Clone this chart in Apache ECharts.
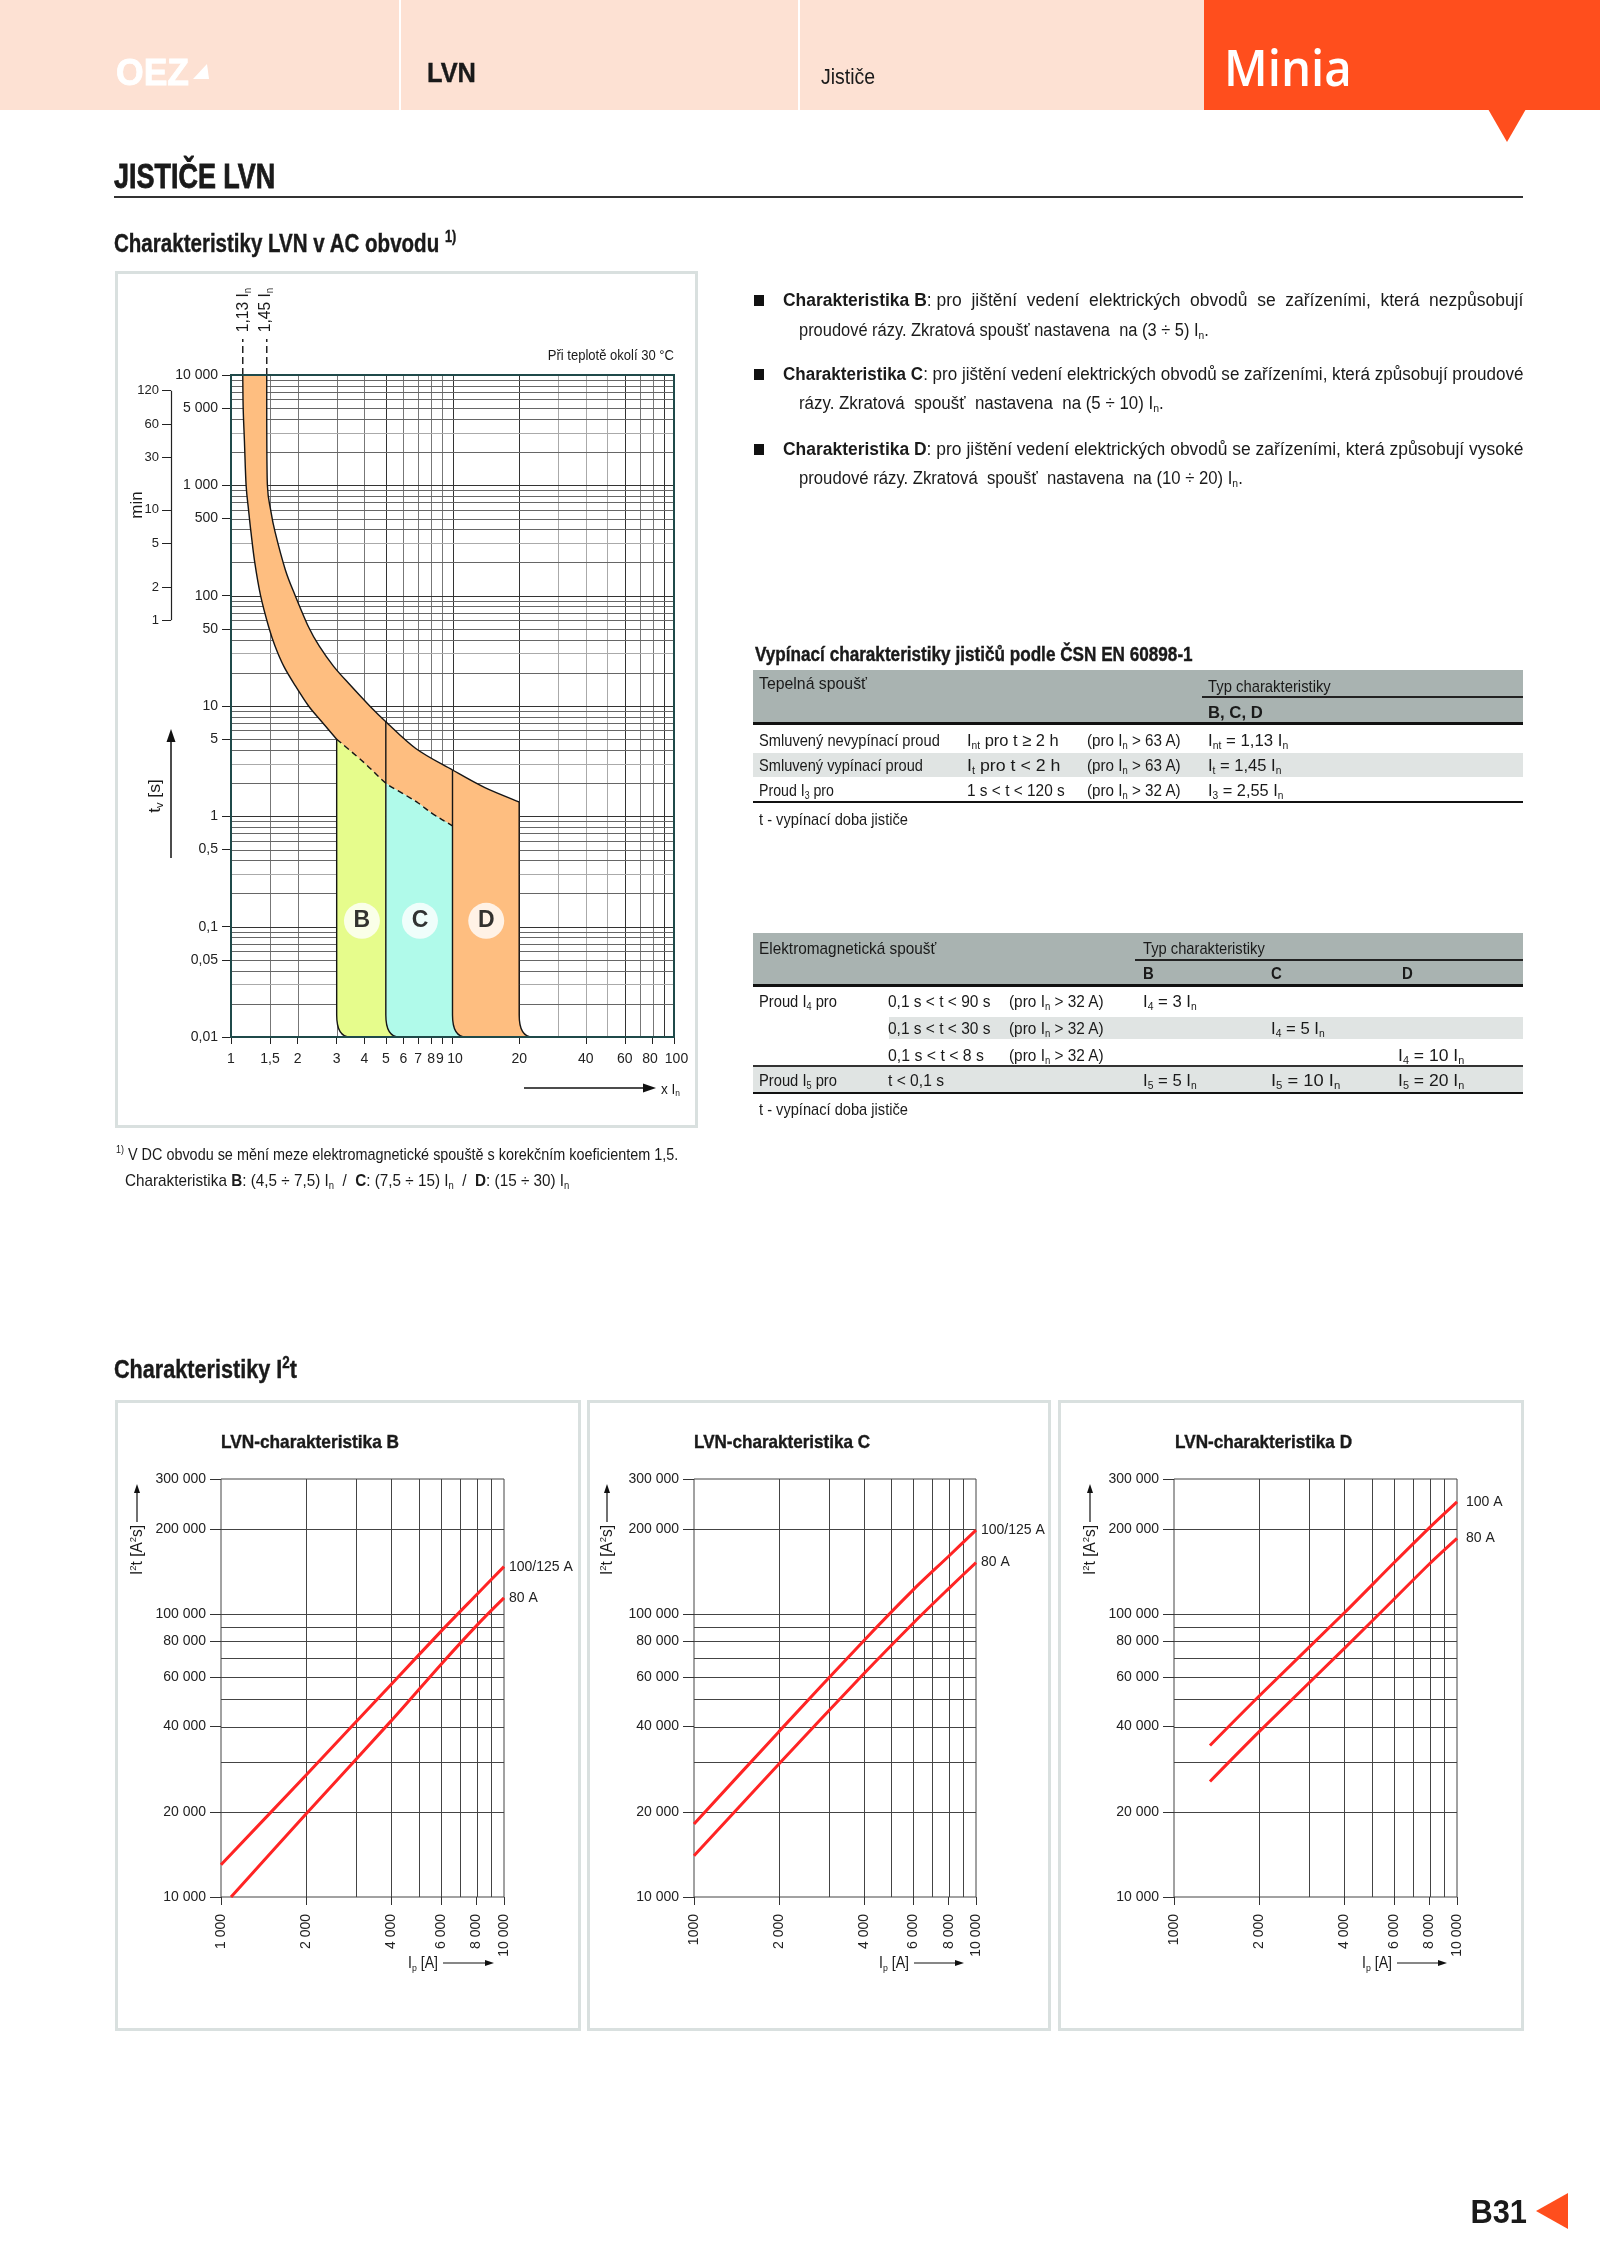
<!DOCTYPE html>
<html><head><meta charset="utf-8">
<script src="https://cdn.jsdelivr.net/npm/echarts@6/dist/echarts.min.js"></script>
<style>
html,body{margin:0;padding:0;background:#fff;}
#page{position:relative;width:1600px;height:2263px;overflow:hidden;font-family:"Liberation Sans",Arial,sans-serif;color:#1a1a1a;}
.t{position:absolute;white-space:nowrap;line-height:1;transform:translateY(-50%) scaleX(var(--sx,0.88));transform-origin:0 50%;z-index:3;}
.r{transform:translate(-100%,-50%) scaleX(var(--sx,0.88));transform-origin:100% 50%;}
.rot{transform:translate(-50%,-50%) rotate(-90deg) scaleX(var(--sx,0.88));transform-origin:50% 50%;}
.b{font-weight:bold;}
.hv{-webkit-text-stroke:0.8px currentColor;}
.hm{-webkit-text-stroke:0.4px currentColor;}
sub{font-size:62%;vertical-align:-0.3em;line-height:0;}
sup{font-size:62%;vertical-align:0.6em;line-height:0;}
.box{position:absolute;border:3px solid #d9e0df;box-sizing:border-box;}
.bg{position:absolute;}
#chart{position:absolute;left:0;top:0;width:1600px;height:2263px;z-index:1;}
#ov{position:absolute;left:0;top:0;z-index:2;}
.sq{position:absolute;width:10px;height:11px;background:#111;}
.tb{font-size:17px;}
.bl{font-size:18px;}
</style>
</head><body>
<div id="page">
  <!-- header -->
  <div class="bg" style="left:0;top:0;width:1600px;height:110px;background:#FDE1D3;"></div>
  <div class="bg" style="left:399px;top:0;width:2px;height:110px;background:#fff;"></div>
  <div class="bg" style="left:798px;top:0;width:2px;height:110px;background:#fff;"></div>
  <div class="bg" style="left:1204px;top:0;width:396px;height:110px;background:#FF4E1D;"></div>
  <div class="t b hv" data-w="73" style="left:116px;top:72px;font-size:37px;color:#fff;">OEZ</div>
  <div class="t b hm" data-w="49" style="left:427px;top:73px;font-size:28px;">LVN</div>
  <div class="t" data-w="54" style="left:821px;top:77px;font-size:22px;">Jističe</div>
  <div class="t" data-w="128" style="left:1224px;top:67px;font-size:50px;color:#fff;font-family:'Open Sans',sans-serif;font-weight:600;">Minia</div>

  <div class="t b hv" data-w="161" style="left:114px;top:175px;font-size:35px;">JISTIČE LVN</div>
  <div class="bg" style="left:114px;top:196px;width:1409px;height:2px;background:#333;"></div>
  <div class="t b hm" data-w="342" style="left:114px;top:243px;font-size:26px;">Charakteristiky LVN v AC obvodu <sup>1)</sup></div>

  <!-- main chart box -->
  <div class="box" style="left:115px;top:271px;width:583px;height:857px;"></div>
  <div class="t r" data-w="126" style="left:674px;top:354px;font-size:15px;">Při teplotě okolí 30 °C</div>
  <div class="t rot" data-w="44" style="left:242px;top:310px;font-size:17px;">1,13 I<sub>n</sub></div>
  <div class="t rot" data-w="44" style="left:264px;top:310px;font-size:17px;">1,45 I<sub>n</sub></div>
  <div class="t rot" data-w="27" style="left:136px;top:505px;font-size:17px;">min</div>
  <div class="t rot" data-w="34" style="left:154px;top:796px;font-size:17px;">t<sub>v</sub> [s]</div>
  <div class="t" data-w="19" style="left:661px;top:1088px;font-size:15px;">x I<sub>n</sub></div>

  <div class="t" data-w="562" style="left:116px;top:1154px;font-size:17px;"><sup>1)</sup> V DC obvodu se mění meze elektromagnetické spouště s korekčním koeficientem 1,5.</div>
  <div class="t" data-w="444" style="left:125px;top:1180px;font-size:17px;">Charakteristika <b>B</b>: (4,5 ÷ 7,5) I<sub>n</sub> &nbsp;/&nbsp; <b>C</b>: (7,5 ÷ 15) I<sub>n</sub> &nbsp;/&nbsp; <b>D</b>: (15 ÷ 30) I<sub>n</sub></div>

  <!-- bullets -->
  <div class="sq" style="left:754px;top:295px;"></div>
  <div class="t bl" data-w="740" style="left:783px;top:300px;"><b>Charakteristika B</b>: pro&nbsp; jištění&nbsp; vedení&nbsp; elektrických&nbsp; obvodů&nbsp; se&nbsp; zařízeními,&nbsp; která&nbsp; nezpůsobují</div>
  <div class="t bl" data-w="410" style="left:799px;top:330px;">proudové rázy. Zkratová spoušť nastavena&nbsp; na (3 ÷ 5) I<sub>n</sub>.</div>
  <div class="sq" style="left:754px;top:369px;"></div>
  <div class="t bl" data-w="740" style="left:783px;top:374px;"><b>Charakteristika C</b>: pro jištění vedení elektrických obvodů se zařízeními, která způsobují proudové</div>
  <div class="t bl" data-w="365" style="left:799px;top:403px;">rázy. Zkratová&nbsp; spoušť&nbsp; nastavena&nbsp; na (5 ÷ 10) I<sub>n</sub>.</div>
  <div class="sq" style="left:754px;top:444px;"></div>
  <div class="t bl" data-w="740" style="left:783px;top:449px;"><b>Charakteristika D</b>: pro jištění vedení elektrických obvodů se zařízeními, která způsobují vysoké</div>
  <div class="t bl" data-w="444" style="left:799px;top:478px;">proudové rázy. Zkratová&nbsp; spoušť&nbsp; nastavena&nbsp; na (10 ÷ 20) I<sub>n</sub>.</div>

  <!-- table 1 -->
  <div class="t b hm" data-w="438" style="left:755px;top:654px;font-size:20px;">Vypínací charakteristiky jističů podle ČSN EN 60898-1</div>
  <div class="bg" style="left:753px;top:670px;width:770px;height:54px;background:#A9B3B1;"></div>
  <div class="bg" style="left:753px;top:722px;width:770px;height:3px;background:#111;"></div>
  <div class="bg" style="left:1202px;top:696px;width:321px;height:2px;background:#222;"></div>
  <div class="t tb" data-w="108" style="left:759px;top:683px;">Tepelná spoušť</div>
  <div class="t tb" data-w="123" style="left:1208px;top:686px;">Typ charakteristiky</div>
  <div class="t tb b" data-w="55" style="left:1208px;top:712px;">B, C, D</div>
  <div class="bg" style="left:753px;top:753px;width:770px;height:24px;background:#E0E4E3;"></div>
  <div class="t tb" data-w="181" style="left:759px;top:740px;">Smluvený nevypínací proud</div>
  <div class="t tb" data-w="92" style="left:967px;top:740px;">I<sub>nt</sub> pro t ≥ 2 h</div>
  <div class="t tb" data-w="94" style="left:1087px;top:740px;">(pro I<sub>n</sub> &gt; 63 A)</div>
  <div class="t tb" data-w="80" style="left:1208px;top:740px;">I<sub>nt</sub> = 1,13 I<sub>n</sub></div>
  <div class="t tb" data-w="164" style="left:759px;top:765px;">Smluvený vypínací proud</div>
  <div class="t tb" data-w="93" style="left:967px;top:765px;">I<sub>t</sub> pro t &lt; 2 h</div>
  <div class="t tb" data-w="94" style="left:1087px;top:765px;">(pro I<sub>n</sub> &gt; 63 A)</div>
  <div class="t tb" data-w="73" style="left:1208px;top:765px;">I<sub>t</sub> = 1,45 I<sub>n</sub></div>
  <div class="t tb" data-w="75" style="left:759px;top:790px;">Proud I<sub>3</sub> pro</div>
  <div class="t tb" data-w="98" style="left:967px;top:790px;">1 s &lt; t &lt; 120 s</div>
  <div class="t tb" data-w="94" style="left:1087px;top:790px;">(pro I<sub>n</sub> &gt; 32 A)</div>
  <div class="t tb" data-w="75" style="left:1208px;top:790px;">I<sub>3</sub> = 2,55 I<sub>n</sub></div>
  <div class="bg" style="left:753px;top:801px;width:770px;height:2px;background:#111;"></div>
  <div class="t tb" data-w="149" style="left:759px;top:819px;">t - vypínací doba jističe</div>

  <!-- table 2 -->
  <div class="bg" style="left:753px;top:933px;width:770px;height:52px;background:#A9B3B1;"></div>
  <div class="bg" style="left:753px;top:984px;width:770px;height:3px;background:#111;"></div>
  <div class="bg" style="left:1135px;top:959px;width:388px;height:2px;background:#222;"></div>
  <div class="t tb" data-w="177" style="left:759px;top:948px;">Elektromagnetická spoušť</div>
  <div class="t tb" data-w="122" style="left:1143px;top:948px;">Typ charakteristiky</div>
  <div class="t tb b" style="left:1143px;top:973px;">B</div>
  <div class="t tb b" style="left:1271px;top:973px;">C</div>
  <div class="t tb b" style="left:1402px;top:973px;">D</div>
  <div class="bg" style="left:889px;top:1017px;width:634px;height:22px;background:#E0E4E3;"></div>
  <div class="bg" style="left:753px;top:1066px;width:770px;height:26px;background:#E0E4E3;"></div>
  <div class="bg" style="left:753px;top:1065px;width:770px;height:2px;background:#333;"></div>
  <div class="t tb" data-w="78" style="left:759px;top:1001px;">Proud I<sub>4</sub> pro</div>
  <div class="t tb" data-w="102" style="left:888px;top:1001px;">0,1 s &lt; t &lt; 90 s</div>
  <div class="t tb" data-w="95" style="left:1009px;top:1001px;">(pro I<sub>n</sub> &gt; 32 A)</div>
  <div class="t tb" data-w="54" style="left:1143px;top:1001px;">I<sub>4</sub> = 3 I<sub>n</sub></div>
  <div class="t tb" data-w="102" style="left:888px;top:1028px;">0,1 s &lt; t &lt; 30 s</div>
  <div class="t tb" data-w="95" style="left:1009px;top:1028px;">(pro I<sub>n</sub> &gt; 32 A)</div>
  <div class="t tb" data-w="54" style="left:1271px;top:1028px;">I<sub>4</sub> = 5 I<sub>n</sub></div>
  <div class="t tb" data-w="96" style="left:888px;top:1055px;">0,1 s &lt; t &lt; 8 s</div>
  <div class="t tb" data-w="95" style="left:1009px;top:1055px;">(pro I<sub>n</sub> &gt; 32 A)</div>
  <div class="t tb" data-w="66" style="left:1398px;top:1055px;">I<sub>4</sub> = 10 I<sub>n</sub></div>
  <div class="t tb" data-w="78" style="left:759px;top:1080px;">Proud I<sub>5</sub> pro</div>
  <div class="t tb" data-w="56" style="left:888px;top:1080px;">t &lt; 0,1 s</div>
  <div class="t tb" data-w="54" style="left:1143px;top:1080px;">I<sub>5</sub> = 5 I<sub>n</sub></div>
  <div class="t tb" data-w="69" style="left:1271px;top:1080px;">I<sub>5</sub> = 10 I<sub>n</sub></div>
  <div class="t tb" data-w="66" style="left:1398px;top:1080px;">I<sub>5</sub> = 20 I<sub>n</sub></div>
  <div class="bg" style="left:753px;top:1092px;width:770px;height:2px;background:#111;"></div>
  <div class="t tb" data-w="149" style="left:759px;top:1109px;">t - vypínací doba jističe</div>

  <!-- I2t section -->
  <div class="t b hm" data-w="183" style="left:114px;top:1369px;font-size:26px;">Charakteristiky I<sup>2</sup>t</div>
  <div class="box" style="left:115px;top:1400px;width:466px;height:631px;"></div>
  <div class="box" style="left:587px;top:1400px;width:464px;height:631px;"></div>
  <div class="box" style="left:1058px;top:1400px;width:466px;height:631px;"></div>
  <div class="t b hm" data-w="178" style="left:221px;top:1441px;font-size:19px;">LVN-charakteristika B</div>
  <div class="t b hm" data-w="176" style="left:694px;top:1441px;font-size:19px;">LVN-charakteristika C</div>
  <div class="t b hm" data-w="177" style="left:1175px;top:1441px;font-size:19px;">LVN-charakteristika D</div>
  <div class="t rot" data-w="50" style="left:137px;top:1550px;font-size:16px;">I<sup>2</sup>t [A<sup>2</sup>s]</div>
  <div class="t rot" data-w="50" style="left:607px;top:1550px;font-size:16px;">I<sup>2</sup>t [A<sup>2</sup>s]</div>
  <div class="t rot" data-w="50" style="left:1090px;top:1550px;font-size:16px;">I<sup>2</sup>t [A<sup>2</sup>s]</div>
  <div class="t" data-w="30" style="left:408px;top:1963px;font-size:16px;">I<sub>p</sub> [A]</div>
  <div class="t" data-w="30" style="left:879px;top:1963px;font-size:16px;">I<sub>p</sub> [A]</div>
  <div class="t" data-w="30" style="left:1362px;top:1963px;font-size:16px;">I<sub>p</sub> [A]</div>

  <div class="t r b" data-w="57" style="left:1527px;top:2211px;font-size:33px;">B31</div>

  <svg id="ov" width="1600" height="2263">
    <polygon points="1488,109 1526,109 1507,142" fill="#FF4E1D"/>
    <polygon points="193,79 209,79 207,64" fill="#fff"/>
    <polygon points="1536,2211 1568,2193 1568,2229" fill="#FF4E1D"/>
    <line x1="171" y1="858" x2="171" y2="740" stroke="#111" stroke-width="1.5"/>
    <polygon points="171,729 166.5,742 175.5,742" fill="#111"/>
    <line x1="524" y1="1088" x2="645" y2="1088" stroke="#111" stroke-width="1.5"/>
    <polygon points="656,1088 643,1083.5 643,1092.5" fill="#111"/>
    <g stroke="#111" stroke-width="1.2">
      <line x1="137" y1="1522" x2="137" y2="1491"/>
      <line x1="607" y1="1522" x2="607" y2="1491"/>
      <line x1="1090" y1="1522" x2="1090" y2="1491"/>
      <line x1="443" y1="1963" x2="486" y2="1963"/>
      <line x1="914" y1="1963" x2="956" y2="1963"/>
      <line x1="1397" y1="1963" x2="1439" y2="1963"/>
    </g>
    <g fill="#111">
      <polygon points="137,1484 134,1493 140,1493"/>
      <polygon points="607,1484 604,1493 610,1493"/>
      <polygon points="1090,1484 1087,1493 1093,1493"/>
      <polygon points="494,1963 485,1960 485,1966"/>
      <polygon points="964,1963 955,1960 955,1966"/>
      <polygon points="1447,1963 1438,1960 1438,1966"/>
    </g>
  </svg>
  <div id="chart"></div>
</div>
<script>
// ---------- data: time-current characteristic (x In, t [s]) ----------
const MAIN_X_TICKS = [1, 1.5, 2, 3, 4, 5, 6, 7, 8, 9, 10, 20, 40, 60, 80, 100];
const MAIN_Y_TICKS = [0.01, 0.05, 0.1, 0.5, 1, 5, 10, 50, 100, 500, 1000, 5000, 10000];
const MIN_TICKS = [1, 2, 5, 10, 30, 60, 120];
const MAIN_X_GRID = [1.5, 2, 3, 4, 5, 6, 7, 8, 9, 10, 20, 30, 40, 50, 60, 70, 80, 90];
const MAIN_Y_DECADES = [0.01, 0.1, 1, 10, 100, 1000];
const MAIN_Y_MANTISSAS = [1, 2, 3, 4, 5, 6, 7, 8, 9];
const LOWER_SOLID = [[1.13, 10000], [1.135, 5000], [1.15, 2500], [1.17, 1000], [1.2, 600], [1.23, 380], [1.28, 200], [1.36, 100], [1.48, 52], [1.58, 35], [1.73, 23], [1.95, 15.3], [2.24, 10], [2.57, 7.2], [3, 5]];
const DASHED = [[3, 5], [4, 3.05], [5, 2.0], [6, 1.6], [7, 1.32], [8, 1.08], [9, 0.93], [10, 0.82]];
const UPPER = [[1.45, 10000], [1.45, 4000], [1.46, 1000], [1.51, 600], [1.58, 380], [1.76, 171], [1.95, 100], [2.24, 52], [2.5, 35], [2.9, 23], [3.42, 15.8], [4.23, 10], [5, 7.2], [6.85, 4.1], [10, 2.63], [14, 1.82], [20, 1.35]];
const SEPARATORS = [[3, 5], [5, 7.2], [10, 2.63], [20, 1.35]];
const INSTANT_BANDS = [{name: 'B', from: 3, to: 5}, {name: 'C', from: 5, to: 10}, {name: 'D', from: 10, to: 20}];
const REF_CURRENTS = [1.13, 1.45];
const CIRCLES = [[3.9, 0.113, 'B'], [7.13, 0.113, 'C'], [14.2, 0.113, 'D']];

// ---------- data: I2t characteristics (Ip [A], I2t [A2s]) ----------
const I2T_X_TICKS = [1000, 2000, 4000, 6000, 8000, 10000];
const I2T_Y_TICKS = [10000, 20000, 40000, 60000, 80000, 100000, 200000, 300000];
const I2T_X_GRID = [2000, 3000, 4000, 5000, 6000, 7000, 8000, 9000];
const I2T_Y_GRID = [20000, 30000, 40000, 50000, 60000, 70000, 80000, 90000, 100000, 200000];
const B_100_125 = [[1000, 13000], [2000, 27000], [4000, 56500], [6000, 87000], [8000, 117000], [10000, 147000]];
const B_80 = [[1085, 10000], [2000, 19700], [4000, 42000], [6000, 66500], [8000, 91000], [10000, 114000]];
const C_100_125 = [[1000, 18100], [2000, 38400], [4000, 80500], [6000, 122000], [8000, 160000], [10000, 198000]];
const C_80 = [[1000, 14000], [2000, 29500], [4000, 61500], [6000, 93000], [8000, 123000], [10000, 152000]];
const D_100 = [[1340, 34300], [2000, 51300], [4000, 101000], [6000, 152000], [8000, 202000], [10000, 249000]];
const D_80 = [[1340, 25600], [2000, 38400], [4000, 75600], [6000, 113000], [8000, 150500], [10000, 185000]];

// ---------- fit HTML text widths (condensed look) ----------
document.querySelectorAll('.t[data-w]').forEach(el => {
  const nat = el.offsetWidth;
  if (nat > 0) el.style.setProperty('--sx', (parseFloat(el.dataset.w) / nat).toFixed(4));
});

// ---------- styles ----------
const FONT = '"Liberation Sans",Arial,sans-serif';
const ORANGE = '#FEBE80', YELLOW = '#E6FC8C', CYAN = '#B0FAEA', RED = '#FF2424';
const CORNER_DY = 22, CORNER_DX = 13.5, MIN_AXIS_OFFSET = 60;

function fmtNum(v, spaced) {
  if (v >= 1000) return spaced === false ? String(v) : String(v).replace(/\B(?=(\d{3})+(?!\d))/g, ' ');
  return String(v).replace('.', ',');
}
const MAIN_Y_GRID = [];
MAIN_Y_DECADES.forEach(d => MAIN_Y_MANTISSAS.forEach(m => { if (!(d === 0.01 && m === 1)) MAIN_Y_GRID.push(+(d * m).toPrecision(3)); }));

const chart = echarts.init(document.getElementById('chart'), null, {renderer: 'canvas'});

function crisp(v) { return Math.round(v) + 0.5; }
function gridX(xi, yi, yMin, yMax, colorFn) {
  return {type: 'custom', xAxisIndex: xi, yAxisIndex: yi, silent: true, z: 1,
    renderItem(p, api) {
      const v = api.value(0);
      const a = api.coord([v, yMin]), b = api.coord([v, yMax]);
      const x = crisp(a[0]);
      return {type: 'line', shape: {x1: x, y1: a[1], x2: x, y2: b[1]}, style: {stroke: colorFn(v), lineWidth: 1}};
    }};
}
function gridY(xi, yi, xMin, xMax, colorFn) {
  return {type: 'custom', xAxisIndex: xi, yAxisIndex: yi, silent: true, z: 1,
    renderItem(p, api) {
      const v = api.value(1);
      const a = api.coord([xMin, v]), b = api.coord([xMax, v]);
      const y = crisp(a[1]);
      return {type: 'line', shape: {x1: a[0], y1: y, x2: b[0], y2: y}, style: {stroke: colorFn(v), lineWidth: 1}};
    }};
}
const mainXColor = v => ([5, 10, 20, 60, 90].includes(v) ? '#333' : ([30, 40, 50].includes(v) ? '#aaa' : '#777'));
const mainYColor = v => { const m = v / Math.pow(10, Math.floor(Math.log10(v) + 1e-9)); return Math.abs(m - 1) < 1e-6 ? '#333' : (Math.abs(m - 3) < 1e-6 ? '#aaa' : '#666'); };

// Catmull-Rom spline through screen points cs, from index i0 to i1 (neighbours taken from full array)
function spline(cs, i0, i1) {
  let d = '';
  const P = i => cs[Math.max(0, Math.min(cs.length - 1, i))];
  for (let i = i0; i < i1; i++) {
    const p0 = P(i - 1), p1 = P(i), p2 = P(i + 1), p3 = P(i + 2);
    const c1 = [p1[0] + (p2[0] - p0[0]) / 6, p1[1] + (p2[1] - p0[1]) / 6];
    const c2 = [p2[0] - (p3[0] - p1[0]) / 6, p2[1] - (p3[1] - p1[1]) / 6];
    d += ` C${c1[0].toFixed(2)},${c1[1].toFixed(2)} ${c2[0].toFixed(2)},${c2[1].toFixed(2)} ${p2[0].toFixed(2)},${p2[1].toFixed(2)}`;
  }
  return d;
}
const idx = (arr, x) => arr.findIndex(q => q[0] === x);
const pt = c => c[0].toFixed(2) + ',' + c[1].toFixed(2);

const mainFills = {
  type: 'custom', xAxisIndex: 0, yAxisIndex: 0, silent: true, z: 2, data: [[1, 1]],
  renderItem(p, api) {
    const children = [];
    const up = UPPER.map(q => api.coord(q));
    const dnR = DASHED.map(q => api.coord(q)).reverse();
    const loR = LOWER_SOLID.map(q => api.coord(q)).reverse();
    const i10 = idx(UPPER, 10);
    let d = 'M' + pt(up[0]) + spline(up, 0, i10) + ' L' + pt(dnR[0]) + spline(dnR, 0, dnR.length - 1) + ' L' + pt(loR[0]) + spline(loR, 0, loR.length - 1) + ' Z';
    children.push({type: 'path', shape: {pathData: d}, style: {fill: ORANGE}});
    const colors = {B: YELLOW, C: CYAN, D: ORANGE};
    const dn = DASHED.map(q => api.coord(q));
    INSTANT_BANDS.forEach(bd => {
      const src = bd.name === 'D' ? UPPER : DASHED, cs = bd.name === 'D' ? up : dn;
      const a = idx(src, bd.from), b = idx(src, bd.to);
      const L = api.coord([bd.from, 0.01]), R = api.coord([bd.to, 0.01]);
      const bot = L[1];
      let path = 'M' + pt(cs[a]) + spline(cs, a, b);
      path += ` L${R[0]},${bot - CORNER_DY} Q${R[0]},${bot} ${R[0] + CORNER_DX},${bot} L${L[0] + CORNER_DX},${bot} Q${L[0]},${bot} ${L[0]},${bot - CORNER_DY} Z`;
      children.push({type: 'path', shape: {pathData: path}, style: {fill: colors[bd.name]}});
    });
    return {type: 'group', children};
  }
};
const mainStrokes = {
  type: 'custom', xAxisIndex: 0, yAxisIndex: 0, silent: true, z: 3, data: [[1, 1]],
  renderItem(p, api) {
    const children = [];
    const st = {stroke: '#151515', lineWidth: 1.4, fill: null};
    [LOWER_SOLID, UPPER].forEach(arr => {
      const cs = arr.map(q => api.coord(q));
      children.push({type: 'path', shape: {pathData: 'M' + pt(cs[0]) + spline(cs, 0, cs.length - 1)}, style: st});
    });
    const dn = DASHED.map(q => api.coord(q));
    children.push({type: 'path', shape: {pathData: 'M' + pt(dn[0]) + spline(dn, 0, dn.length - 1)}, style: Object.assign({}, st, {lineDash: [6, 4]})});
    SEPARATORS.forEach(s => {
      const a = api.coord(s), b = api.coord([s[0], 0.01]);
      const d = `M${a[0]},${a[1]} L${a[0]},${b[1] - CORNER_DY} Q${a[0]},${b[1]} ${a[0] + CORNER_DX},${b[1]}`;
      children.push({type: 'path', shape: {pathData: d}, style: st});
    });
    REF_CURRENTS.forEach(x => {
      const a = api.coord([x, 10000]);
      children.push({type: 'line', shape: {x1: a[0], y1: a[1], x2: a[0], y2: a[1] - 36}, style: {stroke: '#222', lineWidth: 1.5, lineDash: [7, 4]}});
    });
    return {type: 'group', children};
  }
};
const minAxisLine = {
  type: 'custom', xAxisIndex: 0, yAxisIndex: 1, silent: true, z: 3, clip: false, data: [[1, 1]],
  renderItem(p, api) {
    const a = api.coord([1, MIN_TICKS[0]]), b = api.coord([1, MIN_TICKS[MIN_TICKS.length - 1]]);
    const x = crisp(a[0] - MIN_AXIS_OFFSET);
    return {type: 'line', shape: {x1: x, y1: a[1], x2: x, y2: b[1]}, style: {stroke: '#222', lineWidth: 1.2}};
  }
};

const axisTxt = {fontFamily: FONT, color: '#222'};
function i2tAxes(gi, spaced) {
  return {
    x: {type: 'log', gridIndex: gi, min: 1000, max: 10000,
      axisLine: {show: false}, splitLine: {show: false},
      axisTick: {customValues: I2T_X_TICKS, length: 8, lineStyle: {color: '#333'}},
      axisLabel: Object.assign({customValues: I2T_X_TICKS, rotate: 90, margin: 17, fontSize: 14, formatter: v => fmtNum(v, v === 1000 ? spaced : true)}, axisTxt)},
    y: {type: 'log', gridIndex: gi, min: 10000, max: 300000,
      axisLine: {show: false}, splitLine: {show: false},
      axisTick: {customValues: I2T_Y_TICKS, length: 11, lineStyle: {color: '#333'}},
      axisLabel: Object.assign({customValues: I2T_Y_TICKS, margin: 15, fontSize: 14, formatter: v => fmtNum(v)}, axisTxt)}
  };
}
const ax1 = i2tAxes(1, true), ax2 = i2tAxes(2, false), ax3 = i2tAxes(3, false);

function i2tGrid(xi, yi) {
  return [
    Object.assign(gridX(xi, yi, 10000, 300000, () => '#444'), {data: I2T_X_GRID.map(v => [v, 10000])}),
    Object.assign(gridY(xi, yi, 1000, 10000, () => '#444'), {data: I2T_Y_GRID.map(v => [1000, v])})
  ];
}
function redLine(name, data, xi, yi, off) {
  return {type: 'line', name, data, xAxisIndex: xi, yAxisIndex: yi, showSymbol: false, symbol: 'none', z: 5, silent: true, smooth: 0.3,
    lineStyle: {color: RED, width: 3},
    endLabel: {show: true, formatter: '{a}', distance: off, fontFamily: FONT, fontSize: 14, color: '#222'}};
}
const xRich = {
  l: {padding: [0, 5, 0, 0], fontSize: 14, fontFamily: FONT, color: '#222'},
  r: {padding: [0, 0, 0, 5], fontSize: 14, fontFamily: FONT, color: '#222'}
};
const mainXFmt = v => (v === 9 || v === 80) ? `{l|${v}}` : (v === 10 || v === 100) ? `{r|${v}}` : fmtNum(v);

const option = {
  animation: false,
  grid: [
    {left: 231, top: 375, width: 443, height: 662, show: true, borderColor: '#1f4a4a', borderWidth: 2, backgroundColor: 'transparent', z: 4},
    {left: 221, top: 1479, width: 283, height: 418, show: true, borderColor: '#444', borderWidth: 1},
    {left: 694, top: 1479, width: 282, height: 418, show: true, borderColor: '#444', borderWidth: 1},
    {left: 1174, top: 1479, width: 283, height: 418, show: true, borderColor: '#444', borderWidth: 1}
  ],
  xAxis: [
    {type: 'log', gridIndex: 0, min: 1, max: 100, axisLine: {show: false}, splitLine: {show: false},
      axisTick: {customValues: MAIN_X_TICKS, length: 7, lineStyle: {color: '#222'}},
      axisLabel: Object.assign({customValues: MAIN_X_TICKS, margin: 15, fontSize: 14, formatter: mainXFmt, rich: xRich}, axisTxt)},
    ax1.x, ax2.x, ax3.x
  ],
  yAxis: [
    {type: 'log', gridIndex: 0, min: 0.01, max: 10000, axisLine: {show: false}, splitLine: {show: false},
      axisTick: {customValues: MAIN_Y_TICKS, length: 9, lineStyle: {color: '#222'}},
      axisLabel: Object.assign({customValues: MAIN_Y_TICKS, margin: 13, fontSize: 14, formatter: v => fmtNum(v)}, axisTxt)},
    {type: 'log', gridIndex: 0, min: 0.01 / 60, max: 10000 / 60, position: 'left', offset: MIN_AXIS_OFFSET,
      axisLine: {show: false}, splitLine: {show: false},
      axisTick: {customValues: MIN_TICKS, length: 9, lineStyle: {color: '#222'}},
      axisLabel: Object.assign({customValues: MIN_TICKS, margin: 12, fontSize: 13, formatter: v => fmtNum(v)}, axisTxt)},
    ax1.y, ax2.y, ax3.y
  ],
  series: [
    Object.assign(gridX(0, 0, 0.01, 10000, mainXColor), {data: MAIN_X_GRID.map(v => [v, 1])}),
    Object.assign(gridY(0, 0, 1, 100, mainYColor), {data: MAIN_Y_GRID.map(v => [1, v])}),
    mainFills, mainStrokes, minAxisLine,
    {type: 'scatter', xAxisIndex: 0, yAxisIndex: 0, data: CIRCLES, symbolSize: 36, z: 6, silent: true,
      itemStyle: {color: '#fff'},
      label: {show: true, position: 'inside', formatter: p => p.value[2], fontFamily: FONT, fontWeight: 'bold', fontSize: 23, color: '#000'}},
    ...i2tGrid(1, 2), ...i2tGrid(2, 3), ...i2tGrid(3, 4),
    redLine('100/125 A', B_100_125, 1, 2, 5), redLine('80 A', B_80, 1, 2, 5),
    redLine('100/125 A', C_100_125, 2, 3, 5), redLine('80 A', C_80, 2, 3, 5),
    redLine('100 A', D_100, 3, 4, 9), redLine('80 A', D_80, 3, 4, 9)
  ]
};
chart.setOption(option);
</script>
</body></html>
